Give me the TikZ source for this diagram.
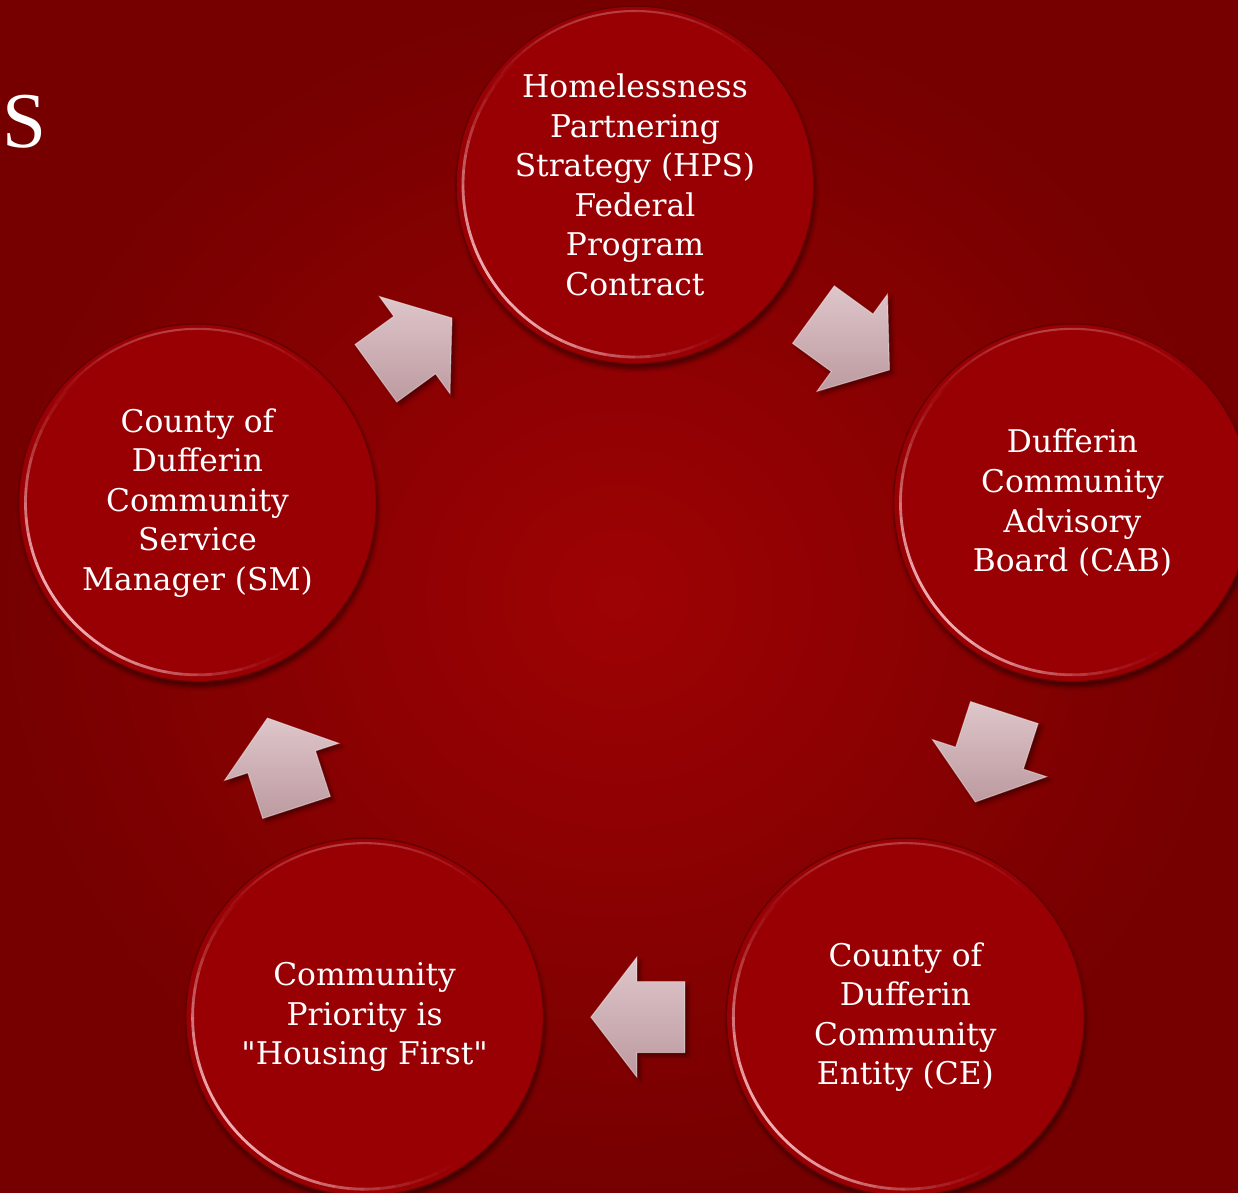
\documentclass[tikz,border=0pt]{standalone}
\usepackage{fontspec}
\setmainfont{DejaVu Serif}
\newfontfamily\headfont{Liberation Serif}
\usetikzlibrary{positioning}
\usetikzlibrary{calc,shapes.arrows,shadows.blur}

\definecolor{bgdark}{RGB}{118,0,0}
\definecolor{bglight}{RGB}{158,2,4}
\definecolor{discred}{RGB}{152,0,4}
\definecolor{discedge}{RGB}{100,0,0}
\definecolor{rim}{RGB}{255,205,210}
\definecolor{arrowlight}{RGB}{222,198,202}
\definecolor{arrowdark}{RGB}{188,154,160}

\tikzset{
  disc/.style={circle, fill=discred, draw=discedge, line width=0.8pt,
    minimum size=7.16cm, inner sep=0pt, text=white, align=center,
    font=\fontsize{17.8}{22.5}\selectfont,
    blur shadow={shadow xshift=1pt, shadow yshift=-3pt, shadow opacity=45}},
  turn/.style={single arrow, minimum height=1.88cm, inner xsep=0pt, inner ysep=0.7cm,
    single arrow head extend=0.49cm, single arrow tip angle=105,
    top color=arrowlight, bottom color=arrowdark,
    draw=white, draw opacity=0.4, line width=0.6pt,
    blur shadow={shadow xshift=2pt, shadow yshift=-2pt, shadow opacity=40},
    rotate=#1, xshift=-0.33cm},
}

\begin{document}
\begin{tikzpicture}[x=0.02cm, y=0.02cm]
  \useasboundingbox (-635,-548) rectangle (603,645);
  \shade[inner color=bglight, outer color=bgdark] (-635,-548) rectangle (603,645);

  \node[text=white, anchor=base west, inner sep=0pt,
        font=\headfont\fontsize{45}{45}\selectfont] (title) at (-633,497) {S};

  % the five stations of the cycle
  \node[disc] (hps) at (90:460)   {Homelessness\\Partnering\\Strategy (HPS)\\Federal\\Program\\Contract};
  \node[disc] (cab) at (18:460)   {Dufferin\\Community\\Advisory\\Board (CAB)};
  \node[disc] (ce)  at (-54:460)  {County of\\Dufferin\\Community\\Entity (CE)};
  \node[disc] (hf)  at (-126:460) {Community\\Priority is\\\textquotedbl Housing First\textquotedbl};
  \node[disc] (sm)  at (162:460)  {County of\\Dufferin\\Community\\Service\\Manager (SM)};

  % glossy rim on each disc
  \foreach \n in {hps,cab,ce,hf,sm} {
    \foreach \a [evaluate=\a as \op using {0.85*max(0,cos(\a-215))^2}] in {125,130,...,305}
      \draw[rim, line width=1.6pt, opacity=\op]
        ($(\n.center)+(\a:172)$) arc[start angle=\a, end angle=\a+5, radius=172];
    \foreach \a [evaluate=\a as \op using {0.3*max(0,cos(1.5*(\a-95)))^2}] in {40,45,...,150}
      \draw[rim, line width=1.2pt, opacity=\op]
        ($(\n.center)+(\a:174)$) arc[start angle=\a, end angle=\a+5, radius=174];
  }

  \node[turn=36]   (t1) at ($(sm)!0.5!(hps)$) {};
  \node[turn=-36]  (t2) at ($(hps)!0.5!(cab)$) {};
  \node[turn=-108] (t3) at ($(cab)!0.5!(ce)$) {};
  \node[turn=180]  (t4) at ($(ce)!0.5!(hf)$) {};
  \node[turn=108]  (t5) at ($(hf)!0.5!(sm)$) {};
\end{tikzpicture}
\end{document}
